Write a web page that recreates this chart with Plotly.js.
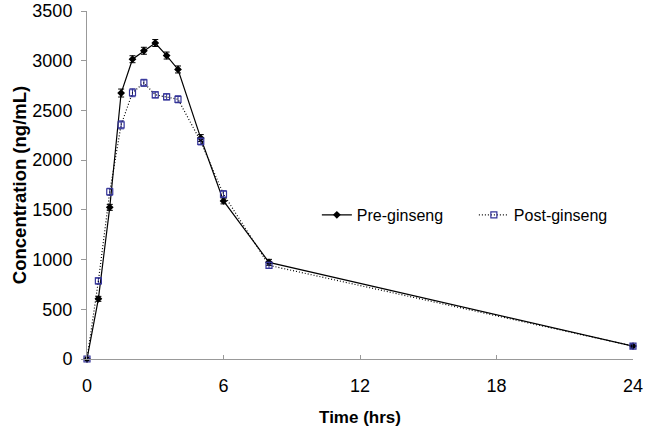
<!DOCTYPE html>
<html><head><meta charset="utf-8">
<script src="https://cdn.plot.ly/plotly-3.0.1.min.js"></script>
<style>html,body{margin:0;padding:0;background:#fff}#chart{width:647px;height:432px}</style>
</head><body><div id="chart"></div>
<script>
const timeHrs = [0, 0.5, 1, 1.5, 2, 2.5, 3, 3.5, 4, 5, 6, 8, 24];
const preGinseng = [0, 605, 1525, 2675, 3015, 3100, 3178, 3052, 2912, 2222, 1590, 972, 130];
const preErr = [0, 25, 30, 40, 35, 35, 35, 35, 35, 35, 30, 30, 20];
const postGinseng = [0, 785, 1682, 2355, 2678, 2778, 2657, 2637, 2612, 2188, 1658, 942, 130];
const postErr = [0, 30, 35, 40, 40, 35, 30, 30, 35, 35, 35, 30, 20];
const xTicks = [0, 6, 12, 18, 24];

const font = "Liberation Sans, Arial, sans-serif";
const traces = [
  {x: timeHrs, y: preGinseng, name: "Pre-ginseng", mode: "lines+markers", type: "scatter",
   line: {color: "#000000", width: 1.2},
   marker: {symbol: "diamond", size: 6, color: "#000000"},
   error_y: {type: "data", array: preErr, visible: true, color: "#000000", thickness: 1, width: 3},
   cliponaxis: false},
  {x: timeHrs, y: postGinseng, name: "Post-ginseng", mode: "lines+markers", type: "scatter",
   line: {color: "#000000", width: 1.2, dash: "1px,2px"},
   marker: {symbol: "square-open", size: 6, color: "#333399", line: {width: 1.2, color: "#333399"}},
   error_y: {type: "data", array: postErr, visible: true, color: "#333399", thickness: 1, width: 3},
   cliponaxis: false}
];
const layout = {
  width: 647, height: 432,
  margin: {l: 87, r: 14, t: 11, b: 73},
  paper_bgcolor: "#fff", plot_bgcolor: "#fff",
  font: {family: font, color: "#000"},
  showlegend: true,
  legend: {orientation: "h", x: 0.421, y: 0.414, xanchor: "left", yanchor: "middle",
           font: {size: 16, family: font}, bgcolor: "rgba(0,0,0,0)", itemwidth: 30,
           entrywidth: 112, entrywidthmode: "pixels"},
  xaxis: {range: [0, 24], tickvals: xTicks, ticktext: xTicks.map(String), automargin: false,
          showgrid: false, zeroline: false, showline: true, linecolor: "#999", linewidth: 1,
          ticks: "inside", ticklen: 4, tickcolor: "#999", tickfont: {size: 18, family: font},
          ticklabelstandoff: 10,
          title: {text: "<b>Time (hrs)</b>", font: {size: 17, family: font}, standoff: 16}},
  yaxis: {range: [0, 3500], dtick: 500, tickformat: "d", automargin: false,
          showgrid: false, zeroline: false, showline: true, linecolor: "#999", linewidth: 1,
          ticks: "outside", ticklen: 5, tickcolor: "#999", tickfont: {size: 18, family: font},
          ticklabelstandoff: 5,
          title: {text: "<b>Concentration (ng/mL)</b>", font: {size: 18.5, family: font}, standoff: 0}}
};
Plotly.newPlot("chart", traces, layout, {displayModeBar: false, staticPlot: true});
</script></body></html>
